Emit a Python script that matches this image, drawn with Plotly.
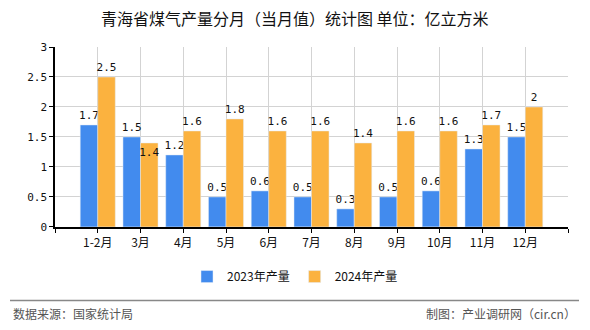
import plotly.graph_objects as go

categories = ["1-2月", "3月", "4月", "5月", "6月", "7月", "8月", "9月", "10月", "11月", "12月"]
values_2023 = [1.7, 1.5, 1.2, 0.5, 0.6, 0.5, 0.3, 0.5, 0.6, 1.3, 1.5]
values_2024 = [2.5, 1.4, 1.6, 1.8, 1.6, 1.6, 1.4, 1.6, 1.6, 1.7, 2.0]
y_ticks = [0, 0.5, 1, 1.5, 2, 2.5, 3]
y_ticktext = ["0", "0.5", "1", "1.5", "2", "2.5", "3"]

BLUE = "#428BEE"
ORANGE = "#FBB23F"
MONO = "DejaVu Sans Mono, Noto Sans CJK SC"
CJK = "Noto Sans CJK SC, DejaVu Sans"

x = list(range(len(categories)))

def fmt(v):
    return ("%g" % v)

pos24 = ["outside"] * len(categories)
pos24[1] = "inside"

fig = go.Figure()
fig.add_trace(go.Bar(
    x=x, y=values_2023, name="2023年产量", marker_color=BLUE,
    text=[fmt(v) for v in values_2023], textposition="outside",
    textfont=dict(family=MONO, size=11, color="#111"), textangle=0,
    constraintext="none", cliponaxis=False,
))
fig.add_trace(go.Bar(
    x=x, y=values_2024, name="2024年产量", marker_color=ORANGE,
    text=[fmt(v) for v in values_2024], textposition=pos24,
    insidetextanchor="end", textangle=0,
    textfont=dict(family=MONO, size=11, color="#111"),
    constraintext="none", cliponaxis=False,
))

pw = 590 - 55 - 22
ph = 330 - 47 - 101
def px_x(px):
    return (px - 55) / pw
def px_y(py):
    return (330 - 101 - py) / ph

fig.update_layout(
    width=590, height=330,
    margin=dict(l=55, r=22, t=47, b=101),
    paper_bgcolor="white", plot_bgcolor="white",
    barmode="group", bargap=0.18, bargroupgap=0,
    showlegend=True,
    legend=dict(orientation="h", xref="container", yref="container",
                x=0.5, xanchor="center", y=0.162, yanchor="middle",
                font=dict(family=CJK, size=12, color="#111"),
                itemwidth=30, tracegroupgap=0),
    xaxis=dict(
        range=[-1, 11], tickmode="array",
        tickvals=list(range(-1, 12)),
        ticktext=[""] + categories + [""],
        showgrid=True, gridcolor="#d3d3d3", gridwidth=1,
        showline=True, linecolor="#000", linewidth=1.5,
        ticks="outside", ticklen=4, tickcolor="#000",
        tickfont=dict(family=CJK, size=12, color="#111"),
        zeroline=False, fixedrange=True,
    ),
    yaxis=dict(
        range=[0, 3], tickmode="array", tickvals=y_ticks, ticktext=y_ticktext,
        showgrid=True, gridcolor="#d3d3d3", gridwidth=1,
        showline=True, linecolor="#000", linewidth=1.5,
        ticks="outside", ticklen=4, tickcolor="#000",
        tickfont=dict(family=MONO, size=11, color="#111"),
        zeroline=False, fixedrange=True,
    ),
    annotations=[
        dict(text="青海省煤气产量分月（当月值）统计图 单位：亿立方米",
             xref="paper", yref="paper", x=px_x(295), y=px_y(18), showarrow=False,
             font=dict(family=CJK, size=16, color="#111"),
             xanchor="center", yanchor="middle"),
        dict(text="数据来源：国家统计局", showarrow=False,
             xref="paper", yref="paper", x=px_x(11), y=px_y(317),
             font=dict(family=CJK, size=12, color="#555"),
             xanchor="left", yanchor="middle"),
        dict(text="制图：产业调研网（cir.cn）", showarrow=False,
             xref="paper", yref="paper", x=px_x(578), y=px_y(317),
             font=dict(family=CJK, size=12, color="#555"),
             xanchor="right", yanchor="middle"),
    ],
)

fig.add_shape(type="line", xref="paper", yref="paper",
              x0=px_x(10), x1=px_x(579), y0=px_y(303.5), y1=px_y(303.5),
              line=dict(color="#888", width=1.5))

fig.write_html("out.html")
